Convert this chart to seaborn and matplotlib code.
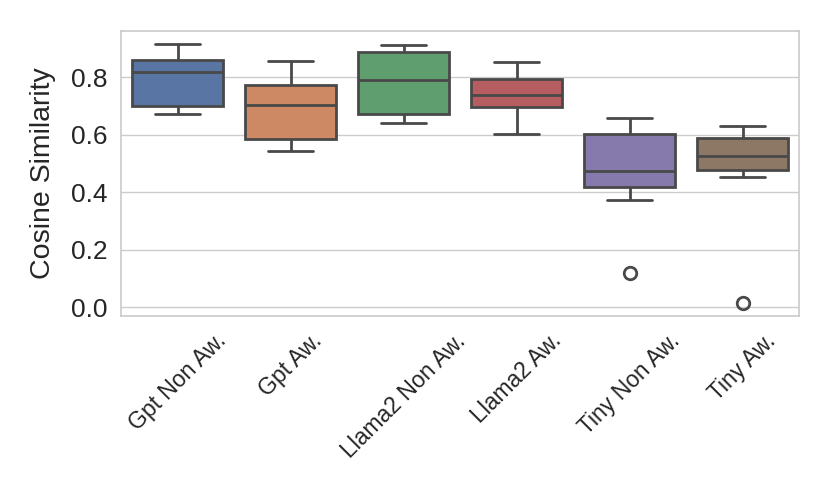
import matplotlib
import pandas as pd
import seaborn as sns

matplotlib.use("Agg")
import matplotlib.pyplot as plt

categories = ["Gpt Non Aw.", "Gpt Aw.", "Llama2 Non Aw.", "Llama2 Aw.", "Tiny Non Aw.", "Tiny Aw."]
gpt_non_aw = [0.674, 0.699, 0.820, 0.859, 0.916]
gpt_aw = [0.544, 0.585, 0.704, 0.772, 0.858]
llama2_non_aw = [0.642, 0.672, 0.790, 0.887, 0.911]
llama2_aw = [0.604, 0.696, 0.740, 0.794, 0.854]
tiny_non_aw = [0.120, 0.372, 0.420, 0.455, 0.474, 0.540, 0.603, 0.630, 0.657]
tiny_aw = [0.015, 0.454, 0.478, 0.500, 0.525, 0.560, 0.588, 0.610, 0.631]

series = [gpt_non_aw, gpt_aw, llama2_non_aw, llama2_aw, tiny_non_aw, tiny_aw]
df = pd.DataFrame(
    [(name, v) for name, vals in zip(categories, series) for v in vals],
    columns=["model", "score"],
)

sns.set_theme(style="whitegrid")
plt.rcParams["font.family"] = ["Liberation Sans", "DejaVu Sans"]

fig = plt.figure(figsize=(8.3, 4.98), dpi=100)
ax = fig.add_axes([0.1458, 0.3655, 0.8169, 0.5723])
sns.boxplot(
    data=df, x="model", y="score", hue="model", palette="deep",
    legend=False, linewidth=2.0, fliersize=9,
    flierprops={"markeredgewidth": 2.0}, ax=ax,
)
ax.set_xlabel("")
ax.set_ylabel("Cosine Similarity", fontsize=20.5, labelpad=11)
ax.tick_params(axis="y", labelsize=19)
ax.tick_params(axis="x", labelsize=16.5)
plt.setp(ax.get_xticklabels(), rotation=45)

fig.savefig("out.png", dpi=100)
plt.close(fig)
